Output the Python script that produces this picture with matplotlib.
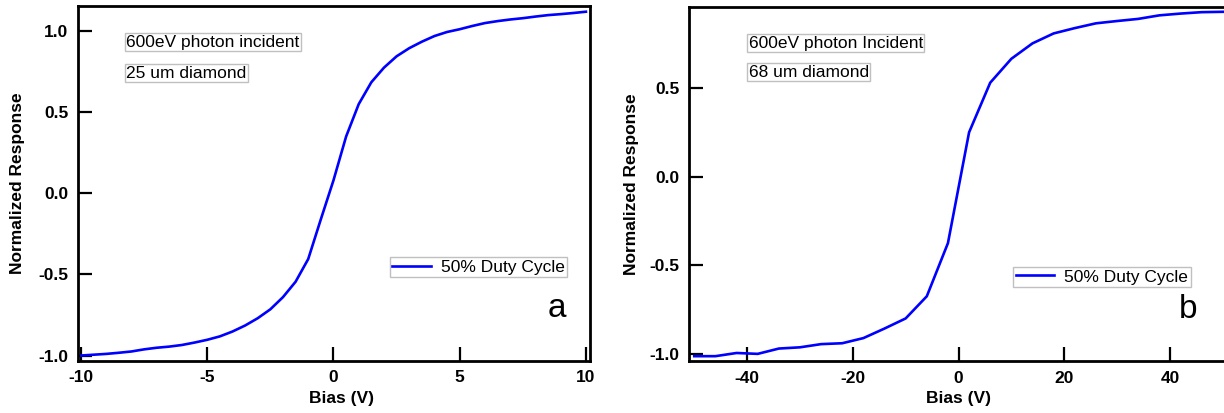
import matplotlib
matplotlib.use("Agg")
import matplotlib.pyplot as plt

plt.rcParams["font.family"] = ["Liberation Sans", "DejaVu Sans"]
plt.rcParams["axes.unicode_minus"] = False

# panel a : 25 um diamond, bias -10..10 V
bias_a = [-10, -9.5, -9, -8.5, -8, -7.5, -7, -6.5, -6, -5.5, -5, -4.5, -4, -3.5,
          -3, -2.5, -2, -1.5, -1, -0.5, 0, 0.5, 1, 1.5, 2, 2.5, 3, 3.5, 4, 4.5,
          5, 5.5, 6, 6.5, 7, 7.5, 8, 8.5, 9, 9.5, 10]
resp_a = [-1.000, -0.995, -0.990, -0.983, -0.975, -0.962, -0.952, -0.945, -0.935,
          -0.920, -0.903, -0.882, -0.852, -0.815, -0.770, -0.715, -0.640, -0.545,
          -0.405, -0.160, 0.080, 0.350, 0.550, 0.685, 0.775, 0.845, 0.895, 0.935,
          0.970, 0.995, 1.012, 1.032, 1.050, 1.062, 1.072, 1.080, 1.090, 1.099,
          1.105, 1.112, 1.120]

# panel b : 68 um diamond, bias -50..50 V
bias_b = [-50, -46, -42, -38, -34, -30, -26, -22, -18, -14, -10, -6, -2,
          2, 6, 10, 14, 18, 22, 26, 30, 34, 38, 42, 46, 50]
resp_b = [-1.013, -1.013, -0.995, -1.000, -0.970, -0.963, -0.945, -0.940, -0.911,
          -0.857, -0.800, -0.675, -0.375, 0.250, 0.530, 0.665, 0.752, 0.808,
          0.838, 0.865, 0.878, 0.890, 0.910, 0.920, 0.928, 0.930]

fig = plt.figure(figsize=(12.24, 4.13), dpi=100)
axa = fig.add_axes([0.0637, 0.127, 0.4183, 0.858])
axb = fig.add_axes([0.5629, 0.126, 0.4404, 0.857])

BLUE = "#0000ff"
FS = 12.5


def style(ax, xt, yt, xlim, ylim, ylab_x, xlab_x=0.5):
    ax.set_xlim(*xlim); ax.set_ylim(*ylim)
    ax.set_xticks(xt); ax.set_yticks(yt)
    ax.set_xticklabels([f"{v:g}" for v in xt])
    ax.set_yticklabels([f"{v:.1f}" for v in yt])
    for s in ax.spines.values():
        s.set_linewidth(2.0)
    ax.tick_params(direction="in", length=10, width=1.6, pad=7, labelsize=FS,
                   top=False, right=False)
    for lab in ax.get_xticklabels() + ax.get_yticklabels():
        lab.set_fontweight("bold")
    ax.set_xlabel("Bias (V)", fontsize=FS, fontweight="bold")
    ax.set_ylabel("Normalized Response", fontsize=FS, fontweight="bold")
    ax.xaxis.set_label_coords(xlab_x, -0.085)
    ax.yaxis.set_label_coords(ylab_x, 0.5)


def tag(ax, x, y, s):
    ax.text(x, y, s, transform=ax.transAxes, ha="left", va="center", fontsize=FS,
            bbox=dict(boxstyle="square,pad=0.08", facecolor="white",
                      edgecolor="#c0c0c0", linewidth=1.0))


def leg(ax, x, y):
    lg = ax.legend(loc="upper left", bbox_to_anchor=(x, y), borderaxespad=0,
                   fontsize=FS, fancybox=False, framealpha=1, edgecolor="#c0c0c0",
                   borderpad=0.15, handlelength=2.2, handletextpad=0.6)
    lg.get_frame().set_linewidth(1.0)


axa.plot(bias_a, resp_a, color=BLUE, lw=1.9, label="50% Duty Cycle")
style(axa, [-10, -5, 0, 5, 10], [-1.0, -0.5, 0.0, 0.5, 1.0],
      (-10.12, 10.16), (-1.031, 1.154), -0.1035, 0.514)
tag(axa, 0.094, 0.898, "600eV photon incident")
tag(axa, 0.094, 0.811, "25 um diamond")
leg(axa, 0.609, 0.292)
axa.text(0.936, 0.148, "a", transform=axa.transAxes, ha="center", va="center",
         fontsize=24)

axb.plot(bias_b, resp_b, color=BLUE, lw=1.9, label="50% Duty Cycle")
style(axb, [-40, -20, 0, 20, 40], [-1.0, -0.5, 0.0, 0.5],
      (-51, 51), (-1.04, 0.957), -0.093)
tag(axb, 0.111, 0.898, "600eV photon Incident")
tag(axb, 0.111, 0.816, "68 um diamond")
leg(axb, 0.601, 0.266)
axb.text(0.926, 0.144, "b", transform=axb.transAxes, ha="center", va="center",
         fontsize=24)

fig.savefig("out.png", dpi=100, facecolor="white")
